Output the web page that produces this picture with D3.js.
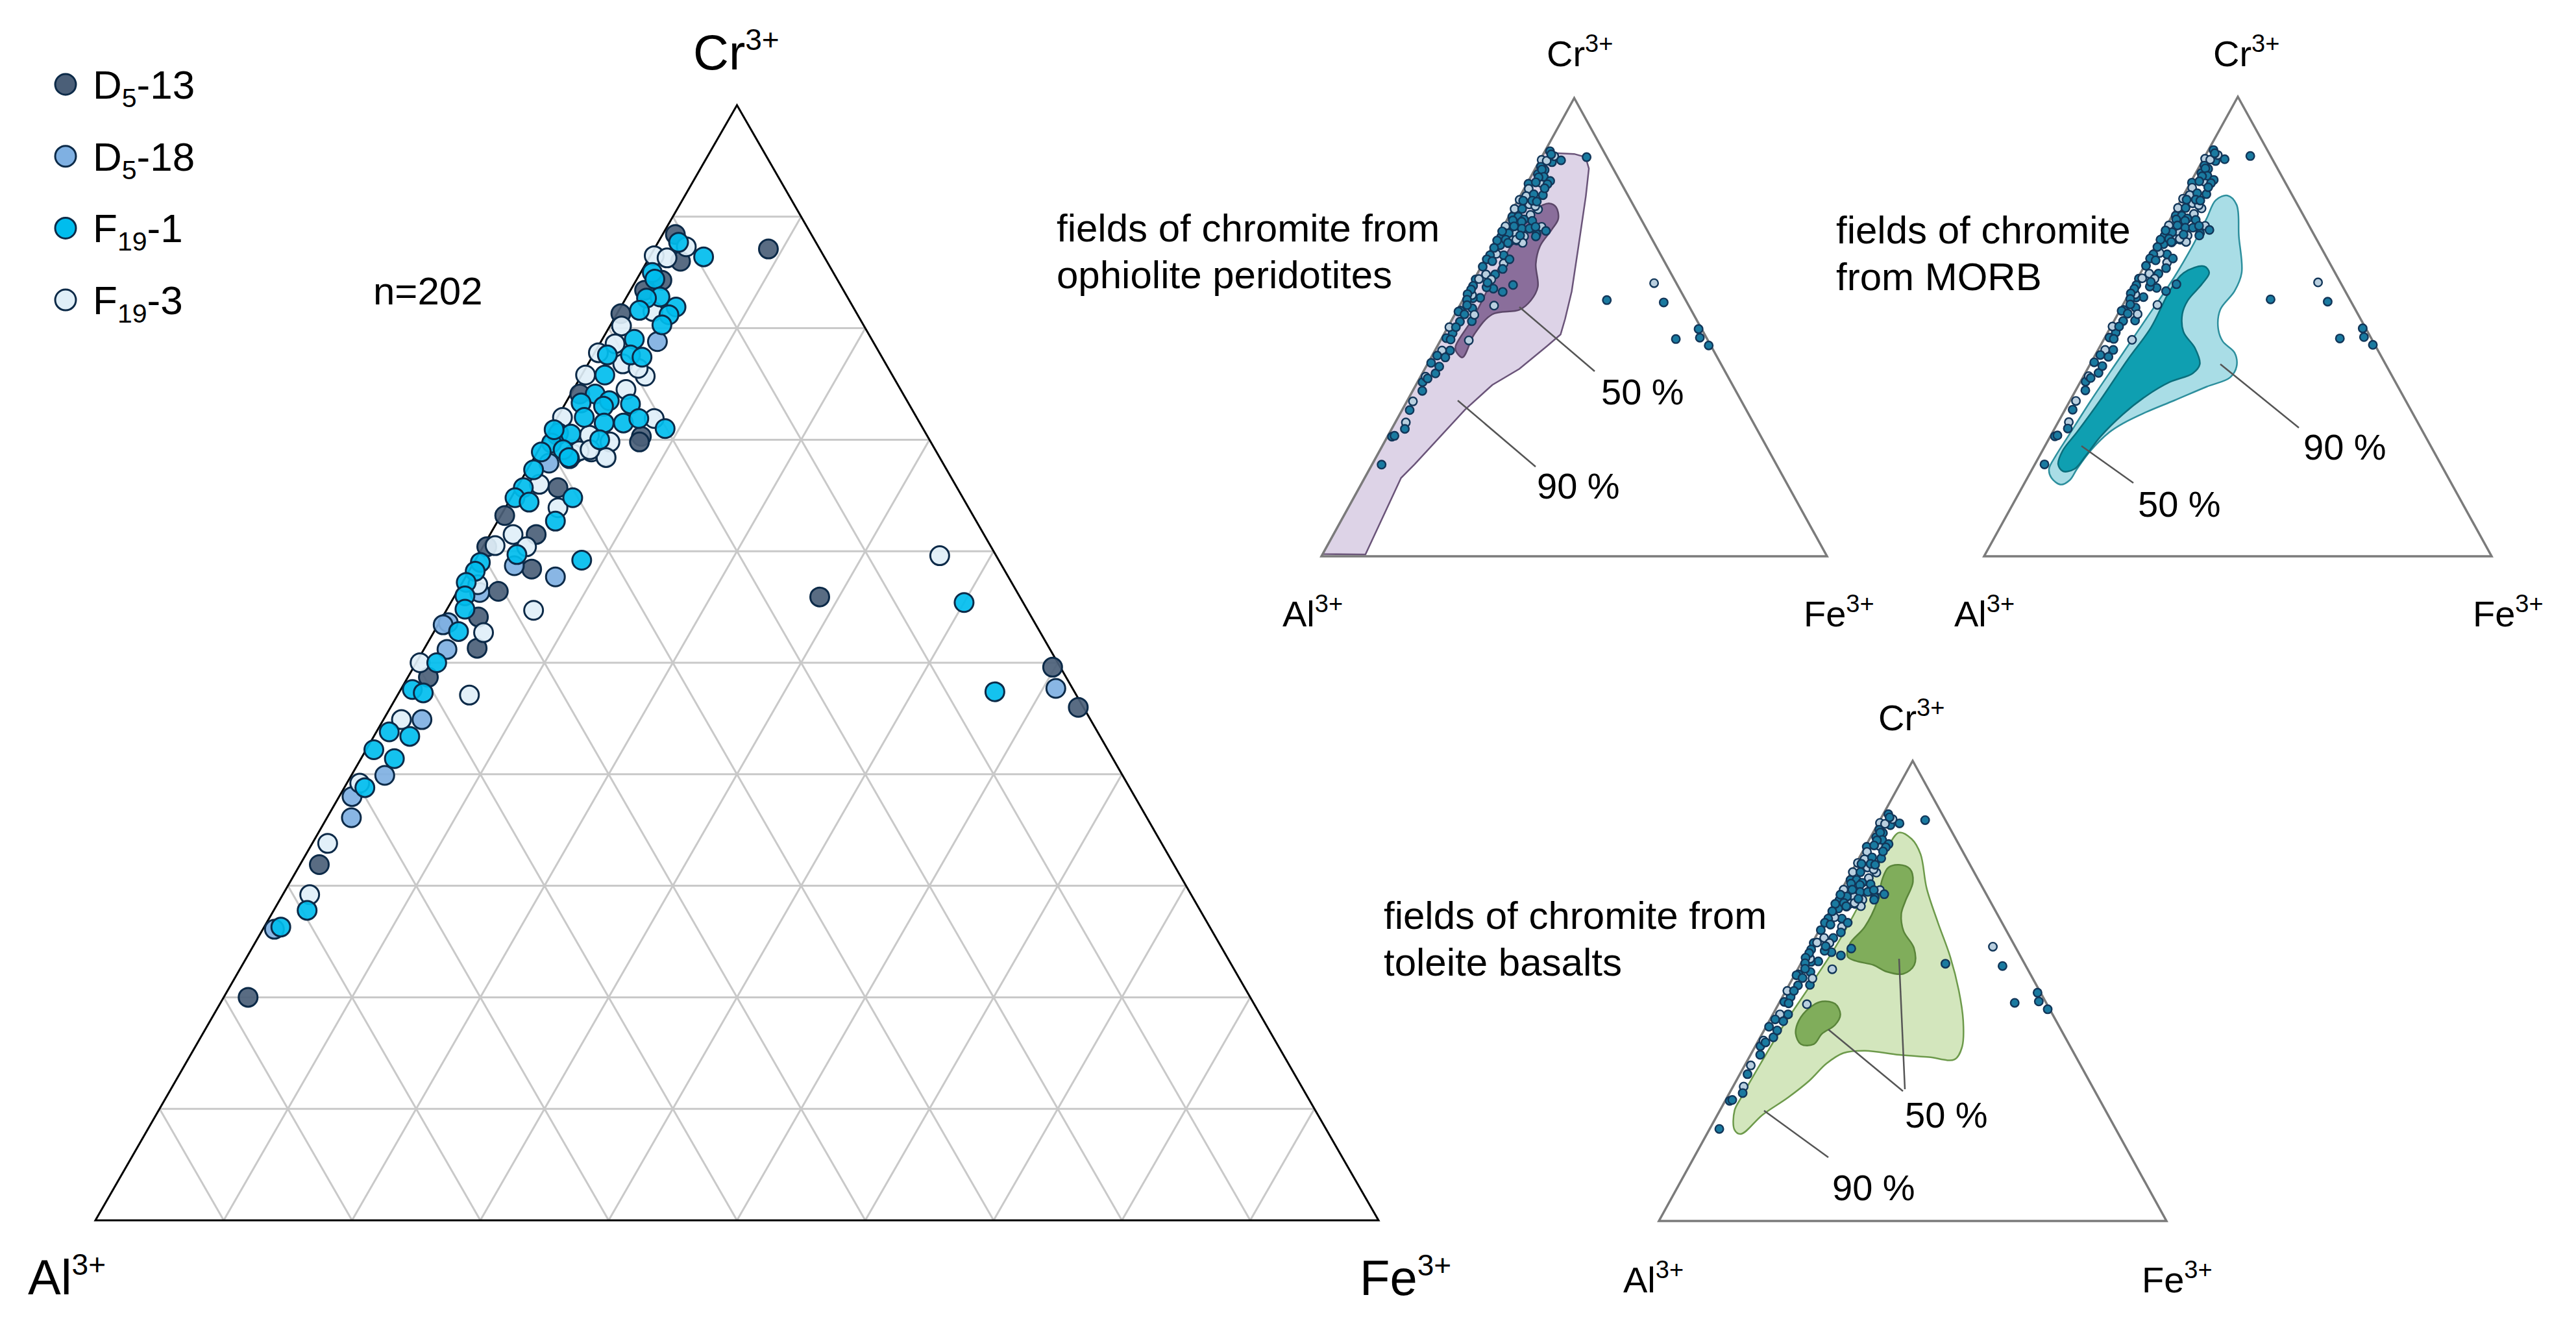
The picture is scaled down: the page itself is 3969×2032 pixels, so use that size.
<!DOCTYPE html>
<html lang="en">
<head>
<meta charset="UTF-8">
<title>Cr-Al-Fe ternary</title>
<script src="https://d3js.org/d3.v7.min.js"></script>
<style>
  body { margin: 0; background: #fff; }
  text { font-family: "Liberation Sans", Arial, sans-serif; fill: #000; }
</style>
</head>
<body>
<script>
// points are [Cr %, Fe %], Al = 100 - Cr - Fe
var seriesNames = [["D", "5", "-13"], ["D", "5", "-18"], ["F", "19", "-1"], ["F", "19", "-3"]];
var seriesColors = ["#4b5f78", "#7fb0e2", "#00bdee", "#e0eff8"];

var d5_13 = [[88.4,1.0],[87.1,8.9],[86.0,2.6],[84.3,2.0],[83.4,1.1],[81.3,0.3],[74.1,0.7],[70.3,7.4],[69.8,7.5],
  [65.7,3.2],[63.2,0.3],[61.5,3.6],[60.4,0.3],[58.4,4.8],[56.4,3.2],[54.1,2.8],[51.3,4.1],[48.7,1.6],[31.9,1.5],
  [20.0,1.9],[55.9,28.5],[49.6,49.8],[46.0,53.6]];
var d5_18 = [[78.8,4.4],[67.9,1.4],[58.7,3.3],[57.7,7.0],[56.3,1.8],[53.6,0.7],[51.2,1.8],[53.4,0.4],[44.9,3.0],
  [39.9,2.6],[38.0,1.0],[36.1,1.9],[26.1,0.9],[47.7,51.0],[70.4,0.8]];
var f19_3 = [[87.3,2.4],[86.5,0.3],[86.3,1.4],[81.5,2.7],[80.2,0.9],[78.6,1.2],[77.8,0.3],[76.8,2.7],[75.8,0.3],
  [75.7,5.0],[76.4,4.1],[74.5,4.1],[72.0,0.4],[71.9,7.6],[70.4,3.3],[68.7,2.9],[68.9,4.2],[68.5,5.5],[69.8,5.2],
  [69.0,3.2],[68.4,5.6],[69.1,4.0],[66.0,1.6],[63.9,4.1],[61.5,1.8],[60.5,0.9],[60.4,3.4],[57.0,1.3],[54.7,6.8],
  [52.7,3.9],[50.0,0.3],[47.1,5.6],[44.9,1.4],[39.2,1.0],[33.8,1.2],[29.2,2.1],[59.6,36.0]];
var f19_1 = [[87.7,1.6],[86.4,4.2],[85.0,0.9],[84.4,1.4],[82.8,2.6],[82.7,1.6],[81.9,4.3],[81.6,1.6],[81.2,4.1],
  [80.3,4.0],[79.0,2.5],[77.6,1.1],[77.6,2.9],[77.4,3.9],[75.8,1.8],[74.1,1.9],[73.3,1.2],[73.5,3.3],[73.2,5.1],
  [73.0,3.1],[72.0,2.1],[71.5,3.9],[71.5,5.4],[71.9,6.4],[71.0,8.9],[70.6,0.8],[70.5,1.8],[70.0,4.3],[69.7,0.7],
  [68.3,2.8],[68.9,0.3],[69.1,1.9],[68.4,2.7],[67.3,0.5],[65.7,0.5],[64.8,0.3],[64.4,1.6],[64.8,4.8],[62.7,4.5],
  [59.7,3.0],[59.2,8.3],[59.0,0.5],[58.2,0.5],[57.2,0.3],[56.0,0.8],[54.8,1.4],[52.8,1.9],[50.0,1.6],[47.6,0.9],
  [47.3,1.9],[43.8,1.0],[43.4,2.8],[42.2,0.6],[41.4,2.6],[38.8,1.6],[27.8,2.6],[26.3,1.3],[55.4,40.0],[47.4,46.4],
  [70.9,0.3]];
var seriesData = [d5_13, d5_18, f19_3, f19_1];
var seriesOrder = [0, 1, 3, 2];   // colour index of each entry in seriesData

var gridTicks = d3.range(10, 100, 10);

// density fields of chromite, [Cr %, Fe %]
var oph90 = [[0.5,0],[0.4,8.5],[17.1,7.2],[20.1,8.4],[32.0,12.4],[37.4,15.1],[40.9,18.7],[45.9,21.7],[48.4,23.1],
  [51.8,22.3],[57.8,20.6],[67.7,17.0],[78.6,13.0],[84.6,10.6],[87.1,8.7],[87.8,6.1],[88.1,0]];
var oph50 = [[77.0,6.6],[76.2,8.3],[73.7,10.0],[71.2,9.9],[67.7,9.4],[63.8,10.5],[58.8,13.4],[55.8,13.5],[53.8,12.3],
  [52.8,7.4],[48.4,6.0],[43.4,6.2],[44.8,4.2],[45.9,3.6],[52.3,4.0],[62.1,3.6],[70.7,3.8],[75.7,4.5]];
var morb90 = [[78.5,8.7],[76.5,11.5],[69.6,15.4],[61.7,19.9],[57.7,20.5],[53.7,19.7],[49.8,21.2],[46.8,23.6],
  [44.3,27.2],[41.3,29.1],[38.9,29.0],[36.9,25.4],[33.9,20.5],[31.4,16.3],[28.9,12.9],[27.0,11.2],[23.0,9.5],
  [19.0,8.8],[16.6,8.6],[15.6,7.3],[17.1,4.7],[19.0,3.3],[22.0,3.2],[26.0,3.5],[33.9,4.1],[42.8,5.1],[51.7,6.1],
  [60.7,7.1],[67.6,7.3],[73.5,7.1],[77.5,6.9]];
var morb50 = [[63.1,11.8],[61.7,13.5],[59.2,13.3],[55.7,12.3],[52.7,12.7],[48.8,14.9],[45.3,18.9],[41.8,21.6],
  [39.8,21.2],[37.9,17.6],[34.9,14.5],[30.9,11.9],[26.0,9.9],[22.0,9.1],[19.0,8.3],[18.5,6.3],[20.0,4.6],[23.0,4.0],
  [27.0,4.8],[33.9,5.9],[42.8,6.9],[49.8,8.0],[57.7,7.7],[61.7,8.5]];
var thol90 = [[84.4,5.1],[83.0,8.3],[79.7,11.7],[72.3,16.6],[64.9,22.5],[57.4,28.7],[50.0,34.1],[43.5,38.2],
  [37.9,40.8],[35.1,40.7],[35.6,35.4],[36.1,29.3],[37.0,22.1],[36.5,18.1],[34.2,15.9],[30.5,14.4],[26.8,12.0],
  [23.1,8.9],[18.9,6.7],[19.8,5.0],[24.0,2.9],[26.8,2.8],[33.3,2.9],[42.6,3.3],[50.9,4.2],[59.3,5.0],[67.7,5.1],
  [75.1,4.7],[80.7,4.5]];
var thol50a = [[77.4,8.6],[76.5,11.2],[73.7,13.2],[69.5,13.8],[66.7,14.4],[63.0,16.7],[59.3,20.6],[55.6,22.5],
  [53.7,21.3],[54.2,17.7],[55.6,14.5],[56.5,10.6],[57.4,8.5],[60.2,7.5],[63.9,8.6],[69.5,8.3],[74.2,6.9],[76.8,6.8]];
var thol50b = [[47.7,8.3],[47.2,11.1],[44.9,13.3],[42.6,13.4],[40.7,11.8],[38.4,11.3],[38.4,8.8],[40.7,6.6],
  [43.5,5.8],[46.3,6.5]];

var width = 3969, height = 2032;
var svg = d3.select("body").append("svg").attr("width", width).attr("height", height);
svg.append("rect").attr("width", width).attr("height", height).attr("fill", "#fff");

// ternary projection through two linear scales (isosceles triangle)
function makeTri(alX, feX, baseY, apexY) {
  var xs = d3.scaleLinear().domain([0, 100]).range([alX, feX]);
  var ys = d3.scaleLinear().domain([0, 100]).range([baseY, apexY]);
  return function(d) { return [xs(d[1] + d[0] / 2), ys(d[0])]; };
}

function supLabel(g, x, y, base, size, supSize, rise) {
  var t = g.append("text").attr("x", x).attr("y", y).attr("font-size", size);
  t.append("tspan").text(base);
  t.append("tspan").attr("font-size", supSize).attr("dy", -rise).text("3+");
}

// ---------- main diagram
var mainP = makeTri(147, 2124, 1880, 162);
var main = svg.append("g");
var line = d3.line();

gridTicks.forEach(function(v) {
  var segs = [
    [[v, 0], [v, 100 - v]],          // Cr constant
    [[0, v], [100 - v, v]],          // Fe constant
    [[100 - v, 0], [0, 100 - v]]     // Al constant
  ];
  segs.forEach(function(s) {
    main.append("path").attr("d", line(s.map(mainP)))
      .attr("stroke", "#c9c9c9").attr("stroke-width", 3).attr("fill", "none");
  });
});
main.append("path").attr("d", line([[0, 0], [0, 100], [100, 0]].map(mainP)) + "Z")
  .attr("stroke", "#000").attr("stroke-width", 3).attr("fill", "none");

seriesData.forEach(function(arr, i) {
  main.append("g").selectAll("circle").data(arr).enter().append("circle")
    .attr("cx", function(d) { return mainP(d)[0]; })
    .attr("cy", function(d) { return mainP(d)[1]; })
    .attr("r", 14.5)
    .attr("fill", seriesColors[seriesOrder[i]])
    .attr("fill-opacity", 0.92)
    .attr("stroke", "#0c2a48").attr("stroke-width", 3);
});

supLabel(svg, 1068, 107, "Cr", 76, 46, 30);
supLabel(svg, 43, 1994, "Al", 76, 46, 30);
supLabel(svg, 2095, 1995, "Fe", 76, 46, 30);
svg.append("text").attr("x", 575).attr("y", 469).attr("font-size", 60).text("n=202");

// legend
seriesNames.forEach(function(n, i) {
  var cy = 130 + i * 110.7;
  svg.append("circle").attr("cx", 101).attr("cy", cy).attr("r", 16)
    .attr("fill", seriesColors[i]).attr("stroke", "#0c2a48").attr("stroke-width", 3);
  var t = svg.append("text").attr("x", 143).attr("y", cy + 22).attr("font-size", 62);
  t.append("tspan").text(n[0]);
  t.append("tspan").attr("font-size", 41).attr("dy", 13).text(n[1]);
  t.append("tspan").attr("dy", -13).text(n[2]);
});

// ---------- small diagrams
var smallTris = [
  { al: 2036, fe: 2815, base: 857, apex: 151,
    fields: [{ d: oph90, fill: "#ddd3e7", stroke: "#6a5479", curve: d3.curveLinearClosed },
             { d: oph50, fill: "#8a6e9b", stroke: "#5c4769", curve: d3.curveCatmullRomClosed }],
    text: ["fields of chromite from", "ophiolite peridotites"], tx: 1628, ty: 372,
    labels: [["50 %", 2467, 623], ["90 %", 2368, 768]],
    leaders: [[2341, 473, 2457, 572], [2246, 617, 2366, 719]],
    crL: [2383, 102], alL: [1976, 965], feL: [2779, 965] },
  { al: 3057, fe: 3839, base: 857, apex: 149,
    fields: [{ d: morb90, fill: "#a9dde6", stroke: "#2d8f9d", curve: d3.curveCatmullRomClosed },
             { d: morb50, fill: "#0f9fb1", stroke: "#0a6f7d", curve: d3.curveCatmullRomClosed }],
    text: ["fields of chromite", "from MORB"], tx: 2829, ty: 375,
    labels: [["90 %", 3549, 708], ["50 %", 3294, 796]],
    leaders: [[3421, 561, 3542, 659], [3207, 687, 3287, 744]],
    crL: [3410, 102], alL: [3011, 965], feL: [3810, 965] },
  { al: 2556, fe: 3338, base: 1881, apex: 1172,
    fields: [{ d: thol90, fill: "#d3e6bd", stroke: "#6d9a4b", curve: d3.curveCatmullRomClosed },
             { d: thol50a, fill: "#80ad5b", stroke: "#5a853a", curve: d3.curveCatmullRomClosed },
             { d: thol50b, fill: "#80ad5b", stroke: "#5a853a", curve: d3.curveCatmullRomClosed }],
    text: ["fields of chromite from", "toleite basalts"], tx: 2132, ty: 1431,
    labels: [["50 %", 2935, 1737], ["90 %", 2823, 1849]],
    leaders: [[2817, 1586, 2932, 1681], [2926, 1477, 2935, 1678], [2718, 1711, 2817, 1783]],
    crL: [2894, 1125], alL: [2501, 1991], feL: [3300, 1991] }
];

smallTris.forEach(function(t) {
  var p = makeTri(t.al, t.fe, t.base, t.apex);
  var g = svg.append("g");
  t.fields.forEach(function(f) {
    g.append("path").attr("d", d3.line().curve(f.curve)(f.d.map(p)))
      .attr("fill", f.fill).attr("stroke", f.stroke).attr("stroke-width", 2.5);
  });
  g.append("path").attr("d", line([[0, 0], [0, 100], [100, 0]].map(p)) + "Z")
    .attr("stroke", "#7b7b7b").attr("stroke-width", 3.5).attr("fill", "none");
  seriesData.forEach(function(arr, i) {
    g.append("g").selectAll("circle").data(arr).enter().append("circle")
      .attr("cx", function(d) { return p(d)[0]; })
      .attr("cy", function(d) { return p(d)[1]; })
      .attr("r", 6.3)
      .attr("fill", seriesOrder[i] === 3 ? "#b9cfdf" : "#1a7aa0")
      .attr("stroke", "#123659").attr("stroke-width", 2.4);
  });
  t.leaders.forEach(function(l) {
    g.append("line").attr("x1", l[0]).attr("y1", l[1]).attr("x2", l[2]).attr("y2", l[3])
      .attr("stroke", "#555").attr("stroke-width", 2.5);
  });
  t.labels.forEach(function(l) {
    g.append("text").attr("x", l[1]).attr("y", l[2]).attr("font-size", 56).text(l[0]);
  });
  t.text.forEach(function(s, i) {
    g.append("text").attr("x", t.tx).attr("y", t.ty + i * 72).attr("font-size", 60).text(s);
  });
  supLabel(g, t.crL[0], t.crL[1], "Cr", 56, 38, 22);
  supLabel(g, t.alL[0], t.alL[1], "Al", 56, 38, 22);
  supLabel(g, t.feL[0], t.feL[1], "Fe", 56, 38, 22);
});
</script>
</body>
</html>
